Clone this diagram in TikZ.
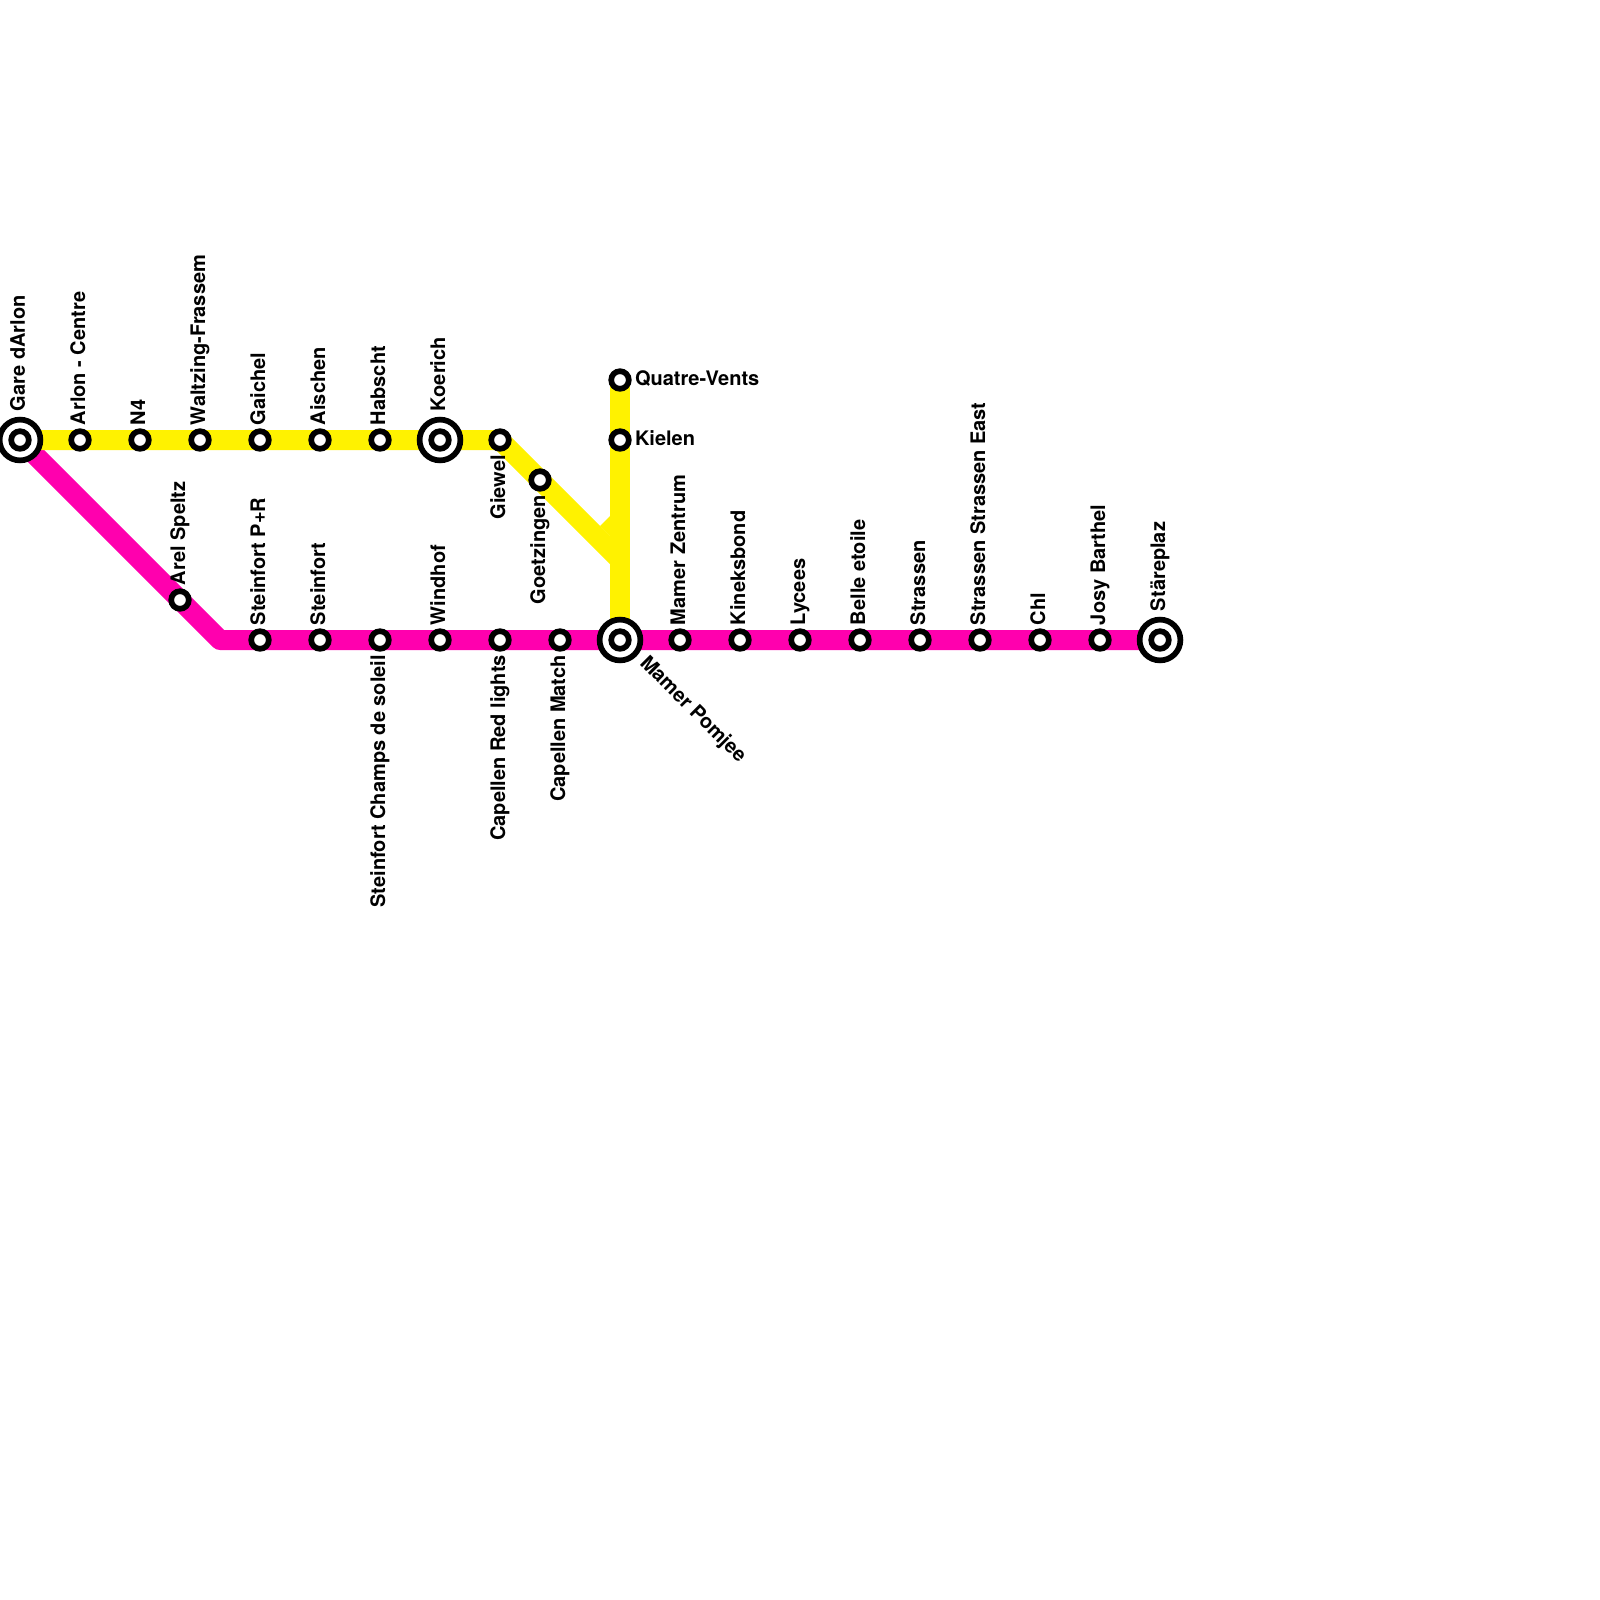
\documentclass[tikz,border=0pt]{standalone}
\usepackage{fontspec}
\setmainfont{TeX Gyre Heros}
\usetikzlibrary{backgrounds}
\definecolor{lineyellow}{HTML}{FFF200}
\definecolor{linepink}{HTML}{FF00AE}
\tikzset{
Station/.style={
 circle, 
 draw=black, 
 fill=white, 
 line width=2.85pt, 
 minimum size=8.8pt, 
 inner sep=0pt
 },
Terminal/.style={
 circle, 
 draw=black, 
 fill=white, 
 line width=2.85pt, 
 minimum size=20.4pt, 
 inner sep=0pt
 },
Nom/.style={
 font=\bfseries\fontsize{10}{11}\selectfont, 
 inner sep=0pt, 
 outer sep=0pt
 },
NomH/.style={Nom, rotate=90, anchor=base west},
NomB/.style={Nom, rotate=90, anchor=base east},
NomD/.style={Nom, anchor=base west},
LigneY/.style={draw=lineyellow, line width=10pt},
LigneP/.style={draw=linepink, line width=10pt, line join=round}
}
\begin{document}
\begin{tikzpicture}[x=0.5pt,y=-0.5pt]
\useasboundingbox (0,0) rectangle (1600,1600);
% ligne du haut
\node[Terminal] (gareT) at (20,440) {};
\node[Station] (gare) at (20,440) {};
\node[Station] (arlon) at (80,440) {};
\node[Station] (nquatre) at (140,440) {};
\node[Station] (waltzing) at (200,440) {};
\node[Station] (gaichel) at (260,440) {};
\node[Station] (aischen) at (320,440) {};
\node[Station] (habscht) at (380,440) {};
\node[Terminal] (koerichT) at (440,440) {};
\node[Station] (koerich) at (440,440) {};
\node[Station] (giewel) at (500,440) {};
\node[Station] (goetzingen) at (540,480) {};
\node[Station] (quatre) at (620,380) {};
\node[Station] (kielen) at (620,440) {};
% ligne du bas
\node[Station] (arel) at (180,600) {};
\node[Station] (pr) at (260,640) {};
\node[Station] (steinfort) at (320,640) {};
\node[Station] (champs) at (380,640) {};
\node[Station] (windhof) at (440,640) {};
\node[Station] (red) at (500,640) {};
\node[Station] (match) at (560,640) {};
\node[Terminal] (pomjeeT) at (620,640) {};
\node[Station] (pomjee) at (620,640) {};
\node[Station] (zentrum) at (680,640) {};
\node[Station] (kineksbond) at (740,640) {};
\node[Station] (lycees) at (800,640) {};
\node[Station] (belle) at (860,640) {};
\node[Station] (strassen) at (920,640) {};
\node[Station] (east) at (980,640) {};
\node[Station] (chl) at (1040,640) {};
\node[Station] (josy) at (1100,640) {};
\node[Terminal] (stareT) at (1160,640) {};
\node[Station] (stare) at (1160,640) {};
% les lignes
\coordinate (coude) at (220,640);
\coordinate (fourche) at (620,560);
\coordinate (bordA) at (607,519);
\coordinate (bordB) at (621,533);
\begin{scope}[on background layer]
\draw[LigneP] (gare.center) -- (coude) -- (stare.center);
\draw[LigneY] (gare.center) -- (giewel.center) -- (fourche);
\draw[LigneY] (bordA) -- (bordB);
\draw[LigneY] (quatre.center) -- (pomjee.center);
\end{scope}
% les noms
\node[NomH] (tgare) at ([shift={(5,-29)}]gare.center) {Gare dArlon};
\node[NomH] (tarlon) at ([shift={(5,-15)}]arlon.center) {Arlon - Centre};
\node[NomH] (tnquatre) at ([shift={(5,-15)}]nquatre.center) {N4};
\node[NomH] (twaltzing) at ([shift={(5,-15)}]waltzing.center) {Waltzing-Frassem};
\node[NomH] (tgaichel) at ([shift={(5,-15)}]gaichel.center) {Gaichel};
\node[NomH] (taischen) at ([shift={(5,-15)}]aischen.center) {Aischen};
\node[NomH] (thabscht) at ([shift={(5,-15)}]habscht.center) {Habscht};
\node[NomH] (tkoerich) at ([shift={(5,-29)}]koerich.center) {Koerich};
\node[NomB] (tgiewel) at ([shift={(5,15)}]giewel.center) {Giewel};
\node[NomB] (tgoetzingen) at ([shift={(5,15)}]goetzingen.center) {Goetzingen};
\node[NomD] (tquatre) at ([shift={(15,5)}]quatre.center) {Quatre-Vents};
\node[NomD] (tkielen) at ([shift={(15,5)}]kielen.center) {Kielen};
\node[NomH] (tarel) at ([shift={(5,-15)}]arel.center) {Arel Speltz};
\node[NomH] (tpr) at ([shift={(5,-15)}]pr.center) {Steinfort P+R};
\node[NomH] (tsteinfort) at ([shift={(5,-15)}]steinfort.center) {Steinfort};
\node[NomB] (tchamps) at ([shift={(5,15)}]champs.center) {Steinfort Champs de soleil};
\node[NomH] (twindhof) at ([shift={(5,-15)}]windhof.center) {Windhof};
\node[NomB] (tred) at ([shift={(5,15)}]red.center) {Capellen Red lights};
\node[NomB] (tmatch) at ([shift={(5,15)}]match.center) {Capellen Match};
\node[Nom,rotate=-45,anchor=base west] (tpomjee) at ([shift={(19,24)}]pomjee.center) {Mamer Pomjee};
\node[NomH] (tzentrum) at ([shift={(5,-15)}]zentrum.center) {Mamer Zentrum};
\node[NomH] (tkineksbond) at ([shift={(5,-15)}]kineksbond.center) {Kineksbond};
\node[NomH] (tlycees) at ([shift={(5,-15)}]lycees.center) {Lycees};
\node[NomH] (tbelle) at ([shift={(5,-15)}]belle.center) {Belle etoile};
\node[NomH] (tstrassen) at ([shift={(5,-15)}]strassen.center) {Strassen};
\node[NomH] (teast) at ([shift={(5,-15)}]east.center) {Strassen Strassen East};
\node[NomH] (tchl) at ([shift={(5,-15)}]chl.center) {Chl};
\node[NomH] (tjosy) at ([shift={(5,-15)}]josy.center) {Josy Barthel};
\node[NomH] (tstare) at ([shift={(5,-29)}]stare.center) {Stäreplaz};
\end{tikzpicture}
\end{document}
